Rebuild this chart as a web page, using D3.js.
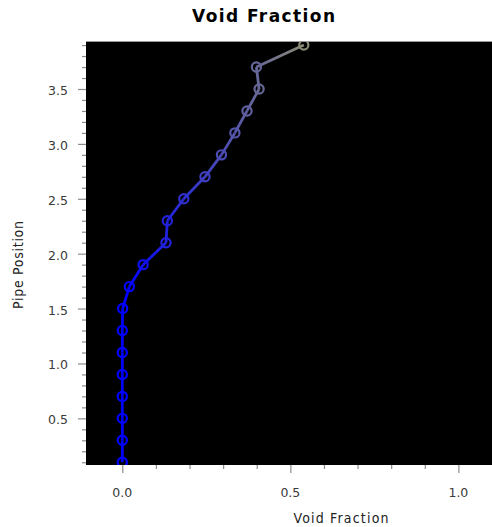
<!DOCTYPE html>
<html>
<head>
<meta charset="utf-8">
<script src="https://cdn.jsdelivr.net/npm/d3@7"></script>
<style>
  html, body { margin: 0; padding: 0; background: #ffffff; }
  svg { display: block; }
</style>
</head>
<body>
<svg id="chart" width="492" height="527"></svg>
<script>
// Void fraction profile along the pipe (cell centres)
const pipePosition = [0.1, 0.3, 0.5, 0.7, 0.9, 1.1, 1.3, 1.5, 1.7, 1.9,
                      2.1, 2.3, 2.5, 2.7, 2.9, 3.1, 3.3, 3.5, 3.7, 3.9];
const voidFraction = [0.0, 0.0, 0.0, 0.0, 0.0, 0.0, 0.0, 0.001, 0.021, 0.062,
                      0.130, 0.134, 0.183, 0.246, 0.295, 0.335, 0.371, 0.407, 0.399, 0.540];
const xTickLabels = ["0.0", "0.5", "1.0"];
const yTickLabels = ["0.5", "1.0", "1.5", "2.0", "2.5", "3.0", "3.5"];

const points = pipePosition.map((p, i) => ({ y: p, x: voidFraction[i] }));

const svg = d3.select("#chart");
const plot = { left: 86, right: 492, top: 42, bottom: 465 };

const x = d3.scaleLinear().domain([-0.108, 1.1]).range([plot.left, plot.right]);
const y = d3.scaleLinear().domain([0.075, 3.928]).range([plot.bottom, plot.top]);

// colour runs from blue (no vapour) to yellow (all vapour)
const colour = d3.interpolateRgb("#0000ff", "#ffff00");

// title
svg.append("text")
  .attr("x", 263.5).attr("y", 22)
  .attr("text-anchor", "middle")
  .attr("font-family", "DejaVu Sans")
  .attr("font-weight", "bold")
  .attr("font-size", 17)
  .attr("textLength", 143).attr("lengthAdjust", "spacing")
  .attr("fill", "#000")
  .text("Void Fraction");

// plot background
svg.append("rect")
  .attr("x", plot.left).attr("y", plot.top)
  .attr("width", plot.right - plot.left).attr("height", plot.bottom - plot.top)
  .attr("fill", "#000000");
svg.append("line")
  .attr("x1", plot.left).attr("x2", plot.right)
  .attr("y1", plot.top - 0.5).attr("y2", plot.top - 0.5)
  .attr("stroke", "#9a9a9a").attr("stroke-width", 1);

// x axis ticks
const xMinor = d3.range(0, 11).map(i => i / 10);
const xAxisG = svg.append("g").attr("transform", `translate(0,${plot.bottom})`);
xAxisG.call(d3.axisBottom(x).tickValues(xMinor).tickSize(3).tickFormat(""));
xAxisG.call(g => {
  g.select(".domain").remove();
  g.selectAll(".tick line").attr("stroke", "#8c8c8c").attr("stroke-width", 1.2)
    .attr("y2", (d, i) => (i % 5 === 0 ? 8 : 4));
});
svg.append("g").selectAll("text").data(xTickLabels).join("text")
  .attr("x", d => x(+d)).attr("y", 497)
  .attr("text-anchor", "middle")
  .attr("font-family", "DejaVu Sans").attr("font-size", 12.5)
  .attr("fill", "#3a3a3a")
  .text(d => d);

// y axis ticks
const yMinor = d3.range(1, 40).map(i => i / 10);
const yAxisG = svg.append("g").attr("transform", `translate(${plot.left},0)`);
yAxisG.call(d3.axisLeft(y).tickValues(yMinor).tickSize(4).tickFormat(""));
yAxisG.call(g => {
  g.select(".domain").remove();
  g.selectAll(".tick line").attr("stroke", "#8c8c8c").attr("stroke-width", 1.2)
    .attr("x2", d => (Math.round(d * 10) % 5 === 0 ? -8 : -4));
});
svg.append("g").selectAll("text").data(yTickLabels).join("text")
  .attr("x", 68).attr("y", d => y(+d) + 6)
  .attr("text-anchor", "end")
  .attr("font-family", "DejaVu Sans").attr("font-size", 12.5)
  .attr("fill", "#3a3a3a")
  .text(d => d);

// axis titles
svg.append("text")
  .attr("x", 341).attr("y", 523)
  .attr("text-anchor", "middle")
  .attr("font-family", "DejaVu Sans Condensed").attr("font-size", 14)
  .attr("textLength", 95).attr("lengthAdjust", "spacing")
  .attr("fill", "#222")
  .text("Void Fraction");
svg.append("text")
  .attr("transform", "translate(23,265) rotate(-90)")
  .attr("text-anchor", "middle")
  .attr("font-family", "DejaVu Sans Condensed").attr("font-size", 14)
  .attr("textLength", 88).attr("lengthAdjust", "spacing")
  .attr("fill", "#222")
  .text("Pipe Position");

// series, clipped to the plot area
const defs = svg.append("defs");
defs.append("clipPath").attr("id", "plotClip")
  .append("rect")
  .attr("x", plot.left).attr("y", plot.top)
  .attr("width", plot.right - plot.left).attr("height", plot.bottom - plot.top);

const series = svg.append("g").attr("clip-path", "url(#plotClip)");

const segments = d3.pairs(points);
segments.forEach(([a, b], i) => {
  const grad = defs.append("linearGradient")
    .attr("id", "seg" + i)
    .attr("gradientUnits", "userSpaceOnUse")
    .attr("x1", x(a.x)).attr("y1", y(a.y))
    .attr("x2", x(b.x)).attr("y2", y(b.y));
  grad.append("stop").attr("offset", 0).attr("stop-color", colour(a.x));
  grad.append("stop").attr("offset", 1).attr("stop-color", colour(b.x));
});

series.selectAll("line.seg").data(segments).join("line")
  .attr("class", "seg")
  .attr("x1", d => x(d[0].x)).attr("y1", d => y(d[0].y))
  .attr("x2", d => x(d[1].x)).attr("y2", d => y(d[1].y) + 0.001)
  .attr("stroke", (d, i) => `url(#seg${i})`)
  .attr("stroke-width", 2.8);

series.selectAll("circle").data(points).join("circle")
  .attr("cx", d => x(d.x)).attr("cy", d => y(d.y))
  .attr("r", 4.6)
  .attr("fill", "none")
  .attr("stroke", d => colour(d.x))
  .attr("stroke-width", 2.2);
</script>
</body>
</html>
